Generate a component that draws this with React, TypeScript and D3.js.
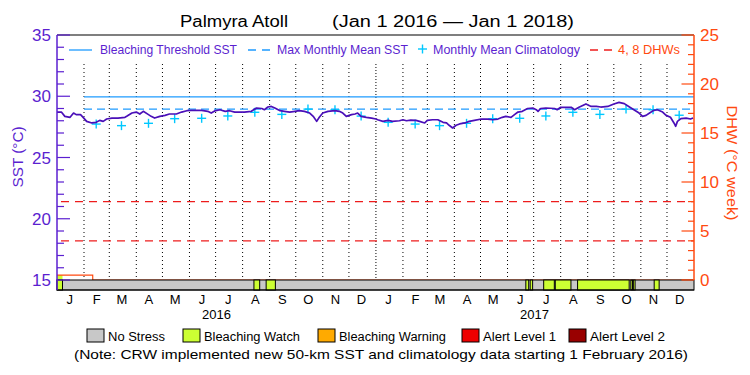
import React from 'react';
import * as d3 from 'd3';

const sstDays = [0,5,9,15,19,22,27,30,34,40,45,49,53,57,63,70,78,80,86,91,95,99,105,108,112,118,124,129,137,143,149,154,166,173,177,181,187,193,198,204,215,223,229,235,238,242,246,250,256,261,267,273,278,284,290,294,298,301,305,311,319,324,328,332,338,342,345,349,355,361,366,368,374,380,385,393,397,401,406,412,416,422,425,431,437,443,447,450,454,458,462,468,473,479,487,494,500,506,511,515,521,525,529,534,540,546,550,552,555,561,571,574,578,590,594,599,607,613,619,624,632,639,645,651,657,662,668,672,676,680,685,689,695,699,704,708,710,712,716,722,727,730];
const sstValues = [28.71,28.71,28.36,28.28,28.63,28.5,28.5,28.28,27.95,27.82,27.87,28.03,27.95,28.14,28.22,28.22,28.28,28.36,28.63,28.71,28.55,28.77,28.5,28.36,28.22,28.36,28.44,28.55,28.55,28.71,28.82,28.85,28.85,28.77,28.63,28.8,28.9,28.77,28.82,28.71,28.71,28.77,29.04,29.0,28.9,29.12,29.17,29.04,28.82,28.77,28.71,28.77,28.82,28.77,28.63,28.36,27.95,28.28,28.63,28.77,28.82,28.77,28.63,28.36,28.5,28.55,28.63,28.36,28.28,28.22,28.14,28.08,27.95,28.03,27.95,28.0,28.08,28.0,28.05,28.03,27.95,27.82,28.03,28.08,28.08,27.87,27.82,27.63,27.41,27.63,27.74,27.82,27.95,28.03,28.14,28.14,28.08,28.14,28.28,28.36,28.28,28.5,28.71,28.77,29.0,29.04,28.9,28.77,29.0,29.04,29.0,28.9,29.1,29.1,28.9,29.1,29.37,29.17,29.17,29.12,29.17,29.37,29.5,29.4,29.12,28.9,28.63,28.36,28.44,28.63,28.85,28.9,28.71,28.44,28.28,27.82,27.55,27.95,28.17,28.22,28.14,28.22];

const climDates = ['2016-02-15','2016-03-15','2016-04-15','2016-05-15','2016-06-15','2016-07-15','2016-08-15','2016-09-15','2016-10-15','2016-11-15','2016-12-15','2017-01-15','2017-02-15','2017-03-15','2017-04-15','2017-05-15','2017-06-15','2017-07-15','2017-08-15','2017-09-15','2017-10-15','2017-11-15','2017-12-15'];
const climValues = [27.73,27.6,27.79,28.17,28.2,28.39,28.69,28.52,28.95,28.9,28.38,27.87,27.73,27.6,27.79,28.17,28.2,28.39,28.69,28.52,28.95,28.9,28.45];

const bleachingThreshold = 29.95;
const maxMonthlyMean = 28.95;
const newDataStart = '2016-02-01';
const dhwLevels = [4, 8];
const dhwDays = [0, 41, 41, 730];
const dhwValues = [0.5, 0.5, 0, 0];

const watchStartDays = [0, 226, 240, 538, 543, 558.5, 571.8, 597.4, 658.5, 661.4, 685.3];
const watchEndDays = [6.3, 232.6, 250.6, 541.3, 545.8, 570.7, 589.8, 656.6, 660.4, 663.4, 691];

const monthLetters = ['J','F','M','A','M','J','J','A','S','O','N','D'];
const yearLabels = ['2016', '2017'];
const sstMajorTicks = [15, 20, 25, 30, 35];
const dhwMajorTicks = [0, 5, 10, 15, 20, 25];
const stressLabels = ['No Stress', 'Bleaching Watch', 'Bleaching Warning', 'Alert Level 1', 'Alert Level 2'];

const PURPLE = '#5b1fd0';
const LINE = '#4a0fb8';
const ORANGE = '#ff4a10';
const RED = '#ee1c1c';
const BLUE = '#1e9bff';
const CYAN = '#00c8ff';
const stressColors = ['#c8c8c8', '#ccff33', '#ffaa00', '#ee0000', '#990000'];
const FONT = '"Liberation Sans", Arial, sans-serif';

const parse = (s: string) => { const [y, m, d] = s.split('-').map(Number); return new Date(Date.UTC(y, m - 1, d)); };
const start = new Date(Date.UTC(2016, 0, 1));
const end = new Date(Date.UTC(2018, 0, 1));
const dayDate = (d: number) => new Date(start.getTime() + d * 86400000);

export default function App() {
  const L = 57, R = 694, T = 35, B = 280, BAR = 290;
  const x = d3.scaleUtc().domain([start, end]).range([L, R]);
  const yS = d3.scaleLinear().domain([15, 35]).range([B, T]);
  const yD = d3.scaleLinear().domain([0, 25]).range([B, T]);

  const sstLine = d3.line<number>().x((d) => x(dayDate(sstDays[d]))).y((d) => yS(sstValues[d]))(sstDays.map((_, i) => i)) || '';
  const dhwLine = d3.line<number>().x((d) => x(dayDate(dhwDays[d]))).y((d) => yD(dhwValues[d]))(dhwDays.map((_, i) => i)) || '';

  const monthStarts = d3.utcMonth.range(start, end);
  const boundaries = d3.utcMonth.range(d3.utcMonth.offset(start, 1), end);
  const xNew = x(parse(newDataStart));

  const sstMinor = d3.range(15, 36, 1);
  const dhwMinor = d3.range(0, 26, 1);

  const legendBoxX = [87, 183, 318, 462, 569];
  const legendTextW = [57, 96, 107, 73, 75];

  return (
    <svg width={750} height={375} style={{ position: 'absolute', left: 0, top: 0, background: '#fff' }} fontFamily={FONT}>
      <rect x={0} y={0} width={750} height={375} fill="#fff" />
      {/* title */}
      <text x={180} y={27} fontSize={16} fill="#000" textLength={108} lengthAdjust="spacingAndGlyphs">Palmyra Atoll</text>
      <text x={332} y={27} fontSize={16} fill="#000" textLength={242} lengthAdjust="spacingAndGlyphs">(Jan 1 2016 — Jan 1 2018)</text>

      {/* dotted month boundaries */}
      {boundaries.map((m, i) => (
        <line key={'b' + i} x1={x(m)} x2={x(m)} y1={64} y2={B} stroke="#000" strokeWidth={1}
          strokeDasharray={m.getUTCMonth() === 0 ? '1,2' : '1,3'} />
      ))}

      {/* DHW reference lines */}
      {dhwLevels.map((v, i) => (
        <line key={'dl' + i} x1={L + 4} x2={R} y1={yD(v)} y2={yD(v)} stroke={RED} strokeWidth={1.2} strokeDasharray="8,6" />
      ))}
      {/* threshold & MMM */}
      <line x1={xNew} x2={R} y1={yS(bleachingThreshold)} y2={yS(bleachingThreshold)} stroke={BLUE} strokeWidth={1.3} />
      <line x1={xNew} x2={R} y1={yS(maxMonthlyMean)} y2={yS(maxMonthlyMean)} stroke={BLUE} strokeWidth={1.3} strokeDasharray="8,5" />

      {/* climatology crosses */}
      {climDates.map((d, i) => {
        const cx = x(parse(d)), cy = yS(climValues[i]);
        return (
          <g key={'c' + i} stroke={CYAN} strokeWidth={1.4}>
            <line x1={cx - 4.5} x2={cx + 4.5} y1={cy} y2={cy} />
            <line x1={cx} x2={cx} y1={cy - 4.5} y2={cy + 4.5} />
          </g>
        );
      })}

      {/* SST line */}
      <path d={sstLine} fill="none" stroke={LINE} strokeWidth={1.7} strokeLinejoin="round" />

      {/* early lime marker + DHW line */}
      <rect x={L} y={yD(0.5)} width={x(dayDate(6.3)) - L} height={B - yD(0.5)} fill="#ccff33" />
      <path d={dhwLine} fill="none" stroke={ORANGE} strokeWidth={1.2} />

      {/* stress bar */}
      <rect x={L} y={B} width={R - L} height={BAR - B} fill={stressColors[0]} stroke="#000" strokeWidth={1} />
      {watchStartDays.map((s, i) => (
        <rect key={'w' + i} x={x(dayDate(s))} y={B} width={x(dayDate(watchEndDays[i])) - x(dayDate(s))} height={BAR - B}
          fill={stressColors[1]} stroke="#000" strokeWidth={1} />
      ))}

      {/* frame */}
      <line x1={L} x2={R} y1={T} y2={T} stroke="#000" strokeWidth={1.2} />
      <line x1={L} x2={R} y1={BAR} y2={BAR} stroke="#000" strokeWidth={1.2} />
      <line x1={L} x2={L} y1={T} y2={BAR} stroke={PURPLE} strokeWidth={1.5} />
      <line x1={R} x2={R} y1={T} y2={B} stroke={ORANGE} strokeWidth={1.5} />

      {/* left axis ticks */}
      {sstMinor.map((v) => {
        const major = sstMajorTicks.includes(v);
        return <line key={'ls' + v} x1={L} x2={L + (major ? 13 : 7)} y1={yS(v)} y2={yS(v)} stroke={PURPLE} strokeWidth={1.2} />;
      })}
      {sstMajorTicks.map((v) => (
        <text key={'lt' + v} x={51} y={yS(v) + 6} fontSize={17} fill={PURPLE} textAnchor="end">{v}</text>
      ))}
      {/* right axis ticks */}
      {dhwMinor.map((v) => {
        const major = dhwMajorTicks.includes(v);
        return <line key={'rs' + v} x1={R} x2={R - (major ? 12.5 : 6)} y1={yD(v)} y2={yD(v)} stroke={ORANGE} strokeWidth={1.2} />;
      })}
      {dhwMajorTicks.map((v) => (
        <text key={'rt' + v} x={700} y={yD(v) + 6} fontSize={17} fill={ORANGE} textAnchor="start">{v}</text>
      ))}

      {/* axis titles */}
      <text transform="translate(23,157) rotate(-90)" fontSize={15} fill={PURPLE} textAnchor="middle" textLength={61} lengthAdjust="spacingAndGlyphs">SST (°C)</text>
      <text transform="translate(727,163) rotate(90)" fontSize={15} fill={ORANGE} textAnchor="middle" textLength={115} lengthAdjust="spacingAndGlyphs">DHW (°C week)</text>

      {/* month labels */}
      {monthStarts.map((m, i) => (
        <text key={'m' + i} x={x(new Date(m.getTime() + 14.5 * 86400000))} y={304} fontSize={13} fill="#000" textAnchor="middle">
          {monthLetters[m.getUTCMonth()]}
        </text>
      ))}
      {yearLabels.map((yl, i) => (
        <text key={'y' + i} x={x(new Date(Date.UTC(2016 + i, 6, 2)))} y={319} fontSize={13} fill="#000" textAnchor="middle">{yl}</text>
      ))}

      {/* top legend */}
      <line x1={69} x2={92} y1={50} y2={50} stroke={BLUE} strokeWidth={1.3} />
      <text x={100} y={54} fontSize={12} fill={PURPLE} textLength={137} lengthAdjust="spacingAndGlyphs">Bleaching Threshold SST</text>
      <line x1={248} x2={272} y1={50} y2={50} stroke={BLUE} strokeWidth={1.3} strokeDasharray="8,6" />
      <text x={277} y={54} fontSize={12} fill={PURPLE} textLength={131} lengthAdjust="spacingAndGlyphs">Max Monthly Mean SST</text>
      <g stroke={CYAN} strokeWidth={1.4}>
        <line x1={418} x2={427} y1={49} y2={49} />
        <line x1={422.5} x2={422.5} y1={44.5} y2={53.5} />
      </g>
      <text x={433} y={54} fontSize={12} fill={PURPLE} textLength={147} lengthAdjust="spacingAndGlyphs">Monthly Mean Climatology</text>
      <line x1={590} x2={614} y1={50} y2={50} stroke={RED} strokeWidth={1.3} strokeDasharray="8,6" />
      <text x={618} y={54} fontSize={12} fill={ORANGE} textLength={62} lengthAdjust="spacingAndGlyphs">4, 8 DHWs</text>

      {/* stress legend */}
      {stressLabels.map((s, i) => (
        <g key={'sl' + i}>
          <rect x={legendBoxX[i]} y={329} width={17} height={13} fill={stressColors[i]} stroke="#000" strokeWidth={1} />
          <text x={legendBoxX[i] + 21} y={341} fontSize={12} fill="#000" textLength={legendTextW[i]} lengthAdjust="spacingAndGlyphs">{s}</text>
        </g>
      ))}
      <text x={74} y={359} fontSize={13} fill="#000" textLength={614} lengthAdjust="spacingAndGlyphs">(Note: CRW implemented new 50-km SST and climatology data starting 1 February 2016)</text>
    </svg>
  );
}
